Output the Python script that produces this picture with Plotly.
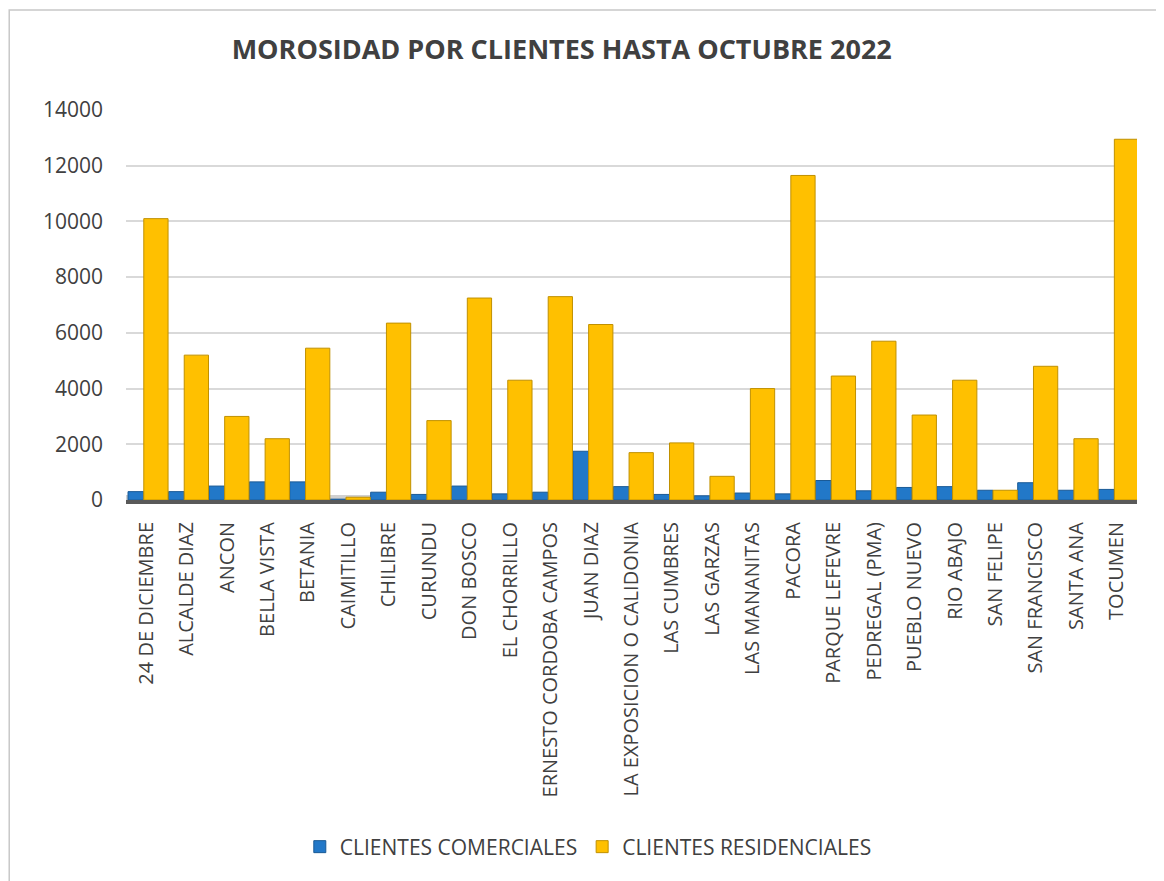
import plotly.graph_objects as go

categories = ["24 DE DICIEMBRE", "ALCALDE DIAZ", "ANCON", "BELLA VISTA", "BETANIA",
              "CAIMITILLO", "CHILIBRE", "CURUNDU", "DON BOSCO", "EL CHORRILLO",
              "ERNESTO CORDOBA CAMPOS", "JUAN DIAZ", "LA EXPOSICION O CALIDONIA",
              "LAS CUMBRES", "LAS GARZAS", "LAS MANANITAS", "PACORA", "PARQUE LEFEVRE",
              "PEDREGAL (PMA)", "PUEBLO NUEVO", "RIO ABAJO", "SAN FELIPE",
              "SAN FRANCISCO", "SANTA ANA", "TOCUMEN"]
comerciales = [300, 300, 500, 650, 650, 30, 280, 200, 500, 220,
               280, 1750, 480, 200, 150, 250, 220, 700, 330, 450,
               480, 350, 620, 350, 380]
residenciales = [10100, 5200, 3000, 2200, 5450, 100, 6350, 2850, 7250, 4300,
                 7300, 6300, 1700, 2050, 850, 4000, 11650, 4450, 5700, 3050,
                 4300, 350, 4800, 2200, 12950]
y_ticks = [0, 2000, 4000, 6000, 8000, 10000, 12000, 14000]

FONT = "Open Sans"
TXT = "#404040"

fig = go.Figure()
fig.add_trace(go.Bar(name="CLIENTES COMERCIALES", x=categories, y=comerciales,
                     marker=dict(color="#2278C8", line=dict(color="#1A5A96", width=1)),
                     width=0.39, offset=-0.45))
fig.add_trace(go.Bar(name="CLIENTES RESIDENCIALES", x=categories, y=residenciales,
                     marker=dict(color="#FFC000", line=dict(color="#C09000", width=1)),
                     width=0.6, offset=-0.06))

fig.update_layout(
    width=1156, height=873,
    paper_bgcolor="white", plot_bgcolor="white",
    margin=dict(l=118, r=27, t=102, b=381, autoexpand=False),
    title=dict(text="<b>MOROSIDAD POR CLIENTES HASTA OCTUBRE 2022</b>",
               x=0.479, xanchor="center", y=1 - 42 / 873, yanchor="middle",
               font=dict(family=FONT, size=27, color=TXT)),
    font=dict(family=FONT, color=TXT),
    barmode="overlay",
    showlegend=True,
    legend=dict(orientation="h", x=0.502, xanchor="center", xref="container",
                y=1 - 839 / 873, yanchor="middle", yref="container",
                font=dict(family=FONT, size=21, color=TXT),
                itemwidth=30, traceorder="normal"),
    xaxis=dict(tickangle=-90, tickfont=dict(family=FONT, size=20, color=TXT),
               showline=True, linecolor="#595959", linewidth=4, ticks="",
               showgrid=False, range=[-0.5, 24.5], automargin=False,
               ticklabelstandoff=10),
    yaxis=dict(range=[0, 14000], tickvals=y_ticks, tickformat="d", showgrid=True,
               gridcolor="#D9D9D9", gridwidth=2, zeroline=False,
               tickfont=dict(family=FONT, size=21, color=TXT),
               ticks="", ticklabelstandoff=22, automargin=False),
)
fig.add_shape(type="rect", xref="paper", yref="y", x0=0, x1=1, y0=0, y1=180,
              fillcolor="#D0D0D0", line=dict(width=0), layer="below")
fig.add_shape(type="rect", xref="paper", yref="paper", x0=-0.1155, x1=1.1, y0=-1.2, y1=1.2564,
              line=dict(color="#C8C8C8", width=1.5), layer="below")
fig.write_html("out.html")
